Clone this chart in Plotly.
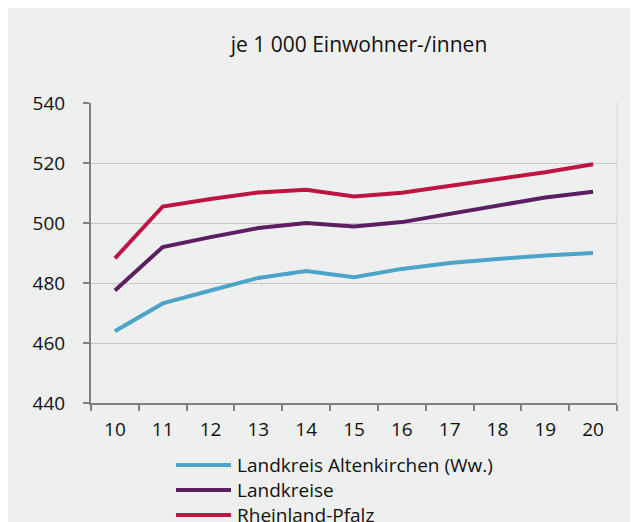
import plotly.graph_objects as go

years = ["10", "11", "12", "13", "14", "15", "16", "17", "18", "19", "20"]
altenkirchen = [463.9, 473.2, 477.5, 481.7, 484.0, 481.9, 484.7, 486.7, 488.0, 489.2, 490.0]
landkreise = [477.5, 492.0, 495.3, 498.3, 500.0, 498.8, 500.3, 503.0, 505.6, 508.5, 510.4]
rlp = [488.2, 505.5, 508.0, 510.2, 511.1, 508.8, 510.1, 512.3, 514.6, 516.9, 519.6]

series = [
    ("Landkreis Altenkirchen (Ww.)", altenkirchen, "#4ca4c8"),
    ("Landkreise", landkreise, "#5b1f62"),
    ("Rheinland-Pfalz", rlp, "#be1442"),
]

FONT = "Open Sans"
BG = "#eef0ef"

fig = go.Figure()
for name, values, color in series:
    fig.add_trace(go.Scatter(x=years, y=values, name=name, mode="lines",
                             line=dict(color=color, width=4), showlegend=False))

# page has an 8px body margin, so the figure is a bit smaller than the window
W, H = 630, 514
L, R, T, B = 83, 21, 95, 119
pw, ph = W - L - R, H - T - B

# hand-made legend (longer line symbols than plotly's default)
leg_y = [457, 482, 507]
for (name, values, color), py in zip(series, leg_y):
    yp = (H - B - py) / ph
    fig.add_shape(type="line", xref="paper", yref="paper",
                  x0=(168 - L) / pw, x1=(223 - L) / pw, y0=yp, y1=yp,
                  line=dict(color=color, width=4))
    fig.add_annotation(xref="paper", yref="paper", x=(227 - L) / pw, y=yp,
                       text=name, showarrow=False, xanchor="left", yanchor="middle",
                       font=dict(family=FONT, size=19, color="#111111"))

fig.update_layout(
    width=W, height=H,
    margin=dict(l=L, r=R, t=T, b=B),
    paper_bgcolor=BG, plot_bgcolor=BG,
    font=dict(family=FONT, size=19, color="#111111"),
    title=dict(text="je 1 000 Einwohner-/innen", x=351 / W, xanchor="center",
               y=1 - 37 / H, yanchor="middle", font=dict(size=21)),
)
fig.update_xaxes(type="category", range=[-0.5, 10.5], showline=True,
                 linecolor="#808080", linewidth=2,
                 ticks="outside", tickcolor="#808080", ticklen=6, tickwidth=2,
                 tickson="boundaries", showgrid=False, ticklabelstandoff=8)
fig.update_yaxes(range=[440, 540], dtick=20, showline=True, linecolor="#808080",
                 linewidth=2, ticks="outside", tickcolor="#808080", ticklen=6,
                 tickwidth=2, gridcolor="#c8c8c8", gridwidth=1, zeroline=False,
                 ticklabelstandoff=14)
fig.add_shape(type="line", xref="paper", yref="paper", x0=1, x1=1, y0=0, y1=1,
              line=dict(color="#d4d4d4", width=1), layer="below")

fig.write_html("out.html")
